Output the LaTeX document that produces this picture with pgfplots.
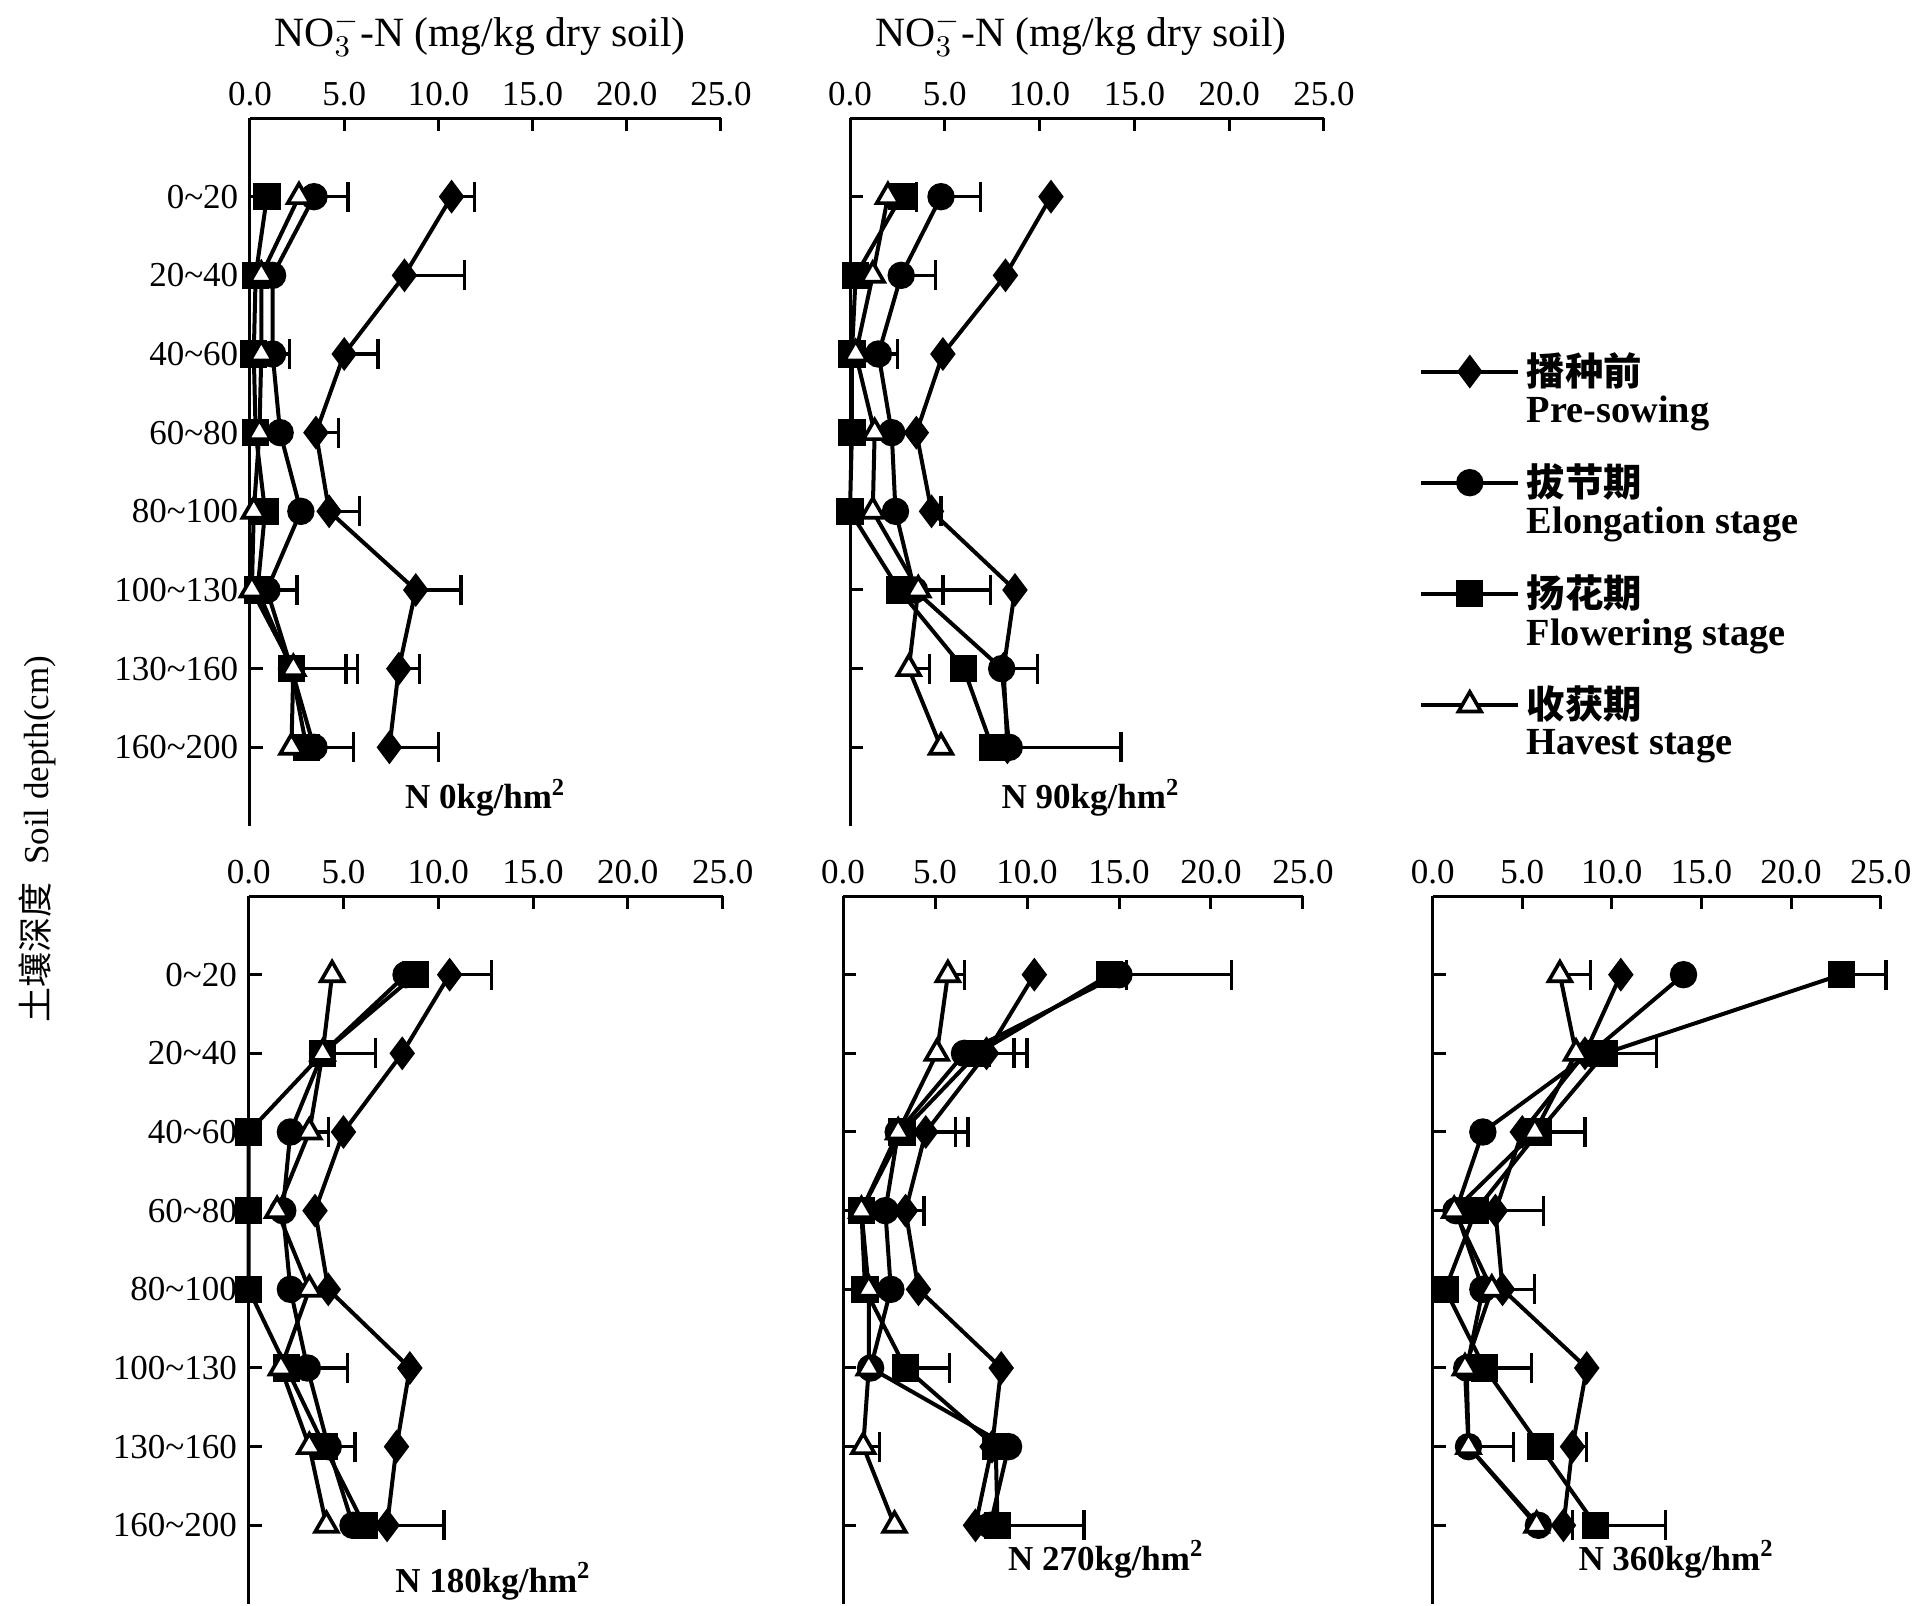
\documentclass[border=0pt]{standalone}
\usepackage{fontspec}
\setmainfont{Liberation Serif}
\newfontfamily\cjk{Noto Sans CJK SC}
\usepackage{pgfplots}
\pgfplotsset{compat=1.18}
\newcommand{\tl}{\textasciitilde}
\tikzset{plab/.style={font=\fontsize{10.5}{12}\selectfont\bfseries}}
\pgfplotsset{
 panel/.style={
  scale only axis, height=212.4pt,
  xmin=0, xmax=25, ymin=-9, ymax=0,
  axis x line*=top, axis y line*=left,
  xtick={0,5,...,25}, ytick={-8,-7,...,-1},
  tick align=inside, major tick length=4pt,
  axis line style={line width=0.9pt, black},
  every tick/.style={line width=0.9pt, black},
  clip=false,
  /pgf/number format/.cd, fixed, fixed zerofill, precision=1, assume math mode=true,
  /pgfplots/.cd,
  tick label style={font=\fontsize{10.5}{12}\selectfont},
 },
 ylab/.style={yticklabels={160\tl200,130\tl160,100\tl130,80\tl100,60\tl80,40\tl60,20\tl40,0\tl20}},
 nolab/.style={yticklabels={}},
 pre/.style={black, line width=1.2pt, mark=diamond*, mark size=4.1pt, mark options={solid, fill=black}},
 elo/.style={black, line width=1.2pt, mark=*, mark size=3.5pt, mark options={solid, fill=black}},
 flo/.style={black, line width=1.2pt, mark=square*, mark size=3.5pt, mark options={solid, fill=black}},
 har/.style={black, line width=1.2pt, mark=triangle*, mark size=3.9pt, mark options={solid, fill=white, line width=1.1pt}},
 errs/.style={forget plot, only marks, mark=none,
   error bars/.cd, x dir=plus, x explicit,
   error bar style={black, line width=1pt, solid},
   error mark options={black, line width=1pt, mark size=4.5pt, solid, rotate=90}},
}
\begin{document}
\begin{tikzpicture}
\useasboundingbox (0,0) rectangle (579.3pt,-481.8pt);
% titles
\node[font=\fontsize{12.5}{14}\selectfont] at (144pt,-10.3pt) {NO$_3^-$-N (mg/kg dry soil)};
\node[font=\fontsize{12.5}{14}\selectfont] at (324.3pt,-10.3pt) {NO$_3^-$-N (mg/kg dry soil)};
\node[rotate=90, font=\fontsize{10.5}{12}\selectfont] at (11.1pt,-251.7pt) {{\cjk 土壤深度}\ \ Soil depth(cm)};

% Panel 1: N 0
\begin{axis}[panel, ylab, width=141.3pt, at={(75pt,-35.4pt)}, anchor=north west]
\addplot[errs] coordinates {(10.7,-1)+-(1.2,0) (8.2,-2)+-(3.2,0) (5.0,-3)+-(1.8,0) (3.5,-4)+-(1.2,0) (4.2,-5)+-(1.6,0) (8.8,-6)+-(2.4,0) (7.9,-7)+-(1.1,0) (7.4,-8)+-(2.6,0)};
\addplot[errs] coordinates {(3.4,-1)+-(1.8,0) (1.2,-3)+-(0.9,0) (0.9,-6)+-(1.6,0) (3.4,-8)+-(2.1,0)};
\addplot[errs] coordinates {(2.2,-7)+-(3.5,0)};
\addplot[errs] coordinates {(2.3,-7)+-(2.8,0)};
\addplot[pre] coordinates {(10.7,-1) (8.2,-2) (5.0,-3) (3.5,-4) (4.2,-5) (8.8,-6) (7.9,-7) (7.4,-8)};
\addplot[elo] coordinates {(3.4,-1) (1.2,-2) (1.2,-3) (1.6,-4) (2.7,-5) (0.9,-6) (2.2,-7) (3.4,-8)};
\addplot[flo] coordinates {(0.9,-1) (0.3,-2) (0.2,-3) (0.3,-4) (0.8,-5) (0.4,-6) (2.2,-7) (3.0,-8)};
\addplot[har] coordinates {(2.6,-1) (0.6,-2) (0.6,-3) (0.5,-4) (0.2,-5) (0.1,-6) (2.3,-7) (2.2,-8)};
\node[plab] at (axis cs:12.5,-8.64) {N 0kg/hm\textsuperscript{2}};
\end{axis}

% Panel 2: N 90
\begin{axis}[panel, nolab, width=142.2pt, at={(255pt,-35.4pt)}, anchor=north west,
  legend image code/.code={\draw[mark repeat=2, mark phase=2, #1] plot coordinates {(0pt,0pt) (14.5pt,0pt) (29pt,0pt)};},
  legend cell align=left,
  legend style={draw=none, fill=none, at={(1.2,0.679)}, anchor=north west, inner sep=0pt, row sep=18pt,
    font=\fontsize{11.5}{10.8}\selectfont, cells={anchor=west}}]
\addplot[errs] coordinates {(4.3,-5)+-(0.5,0) (8.1,-7)+-(1.8,0)};
\addplot[errs] coordinates {(4.8,-1)+-(2.1,0) (2.7,-2)+-(1.8,0) (1.5,-3)+-(1.0,0) (3.4,-6)+-(1.5,0) (8.4,-8)+-(5.9,0)};
\addplot[errs] coordinates {(2.6,-6)+-(4.8,0)};
\addplot[errs] coordinates {(2.0,-1)+-(1.5,0) (3.1,-7)+-(1.1,0)};
\addplot[pre] coordinates {(10.6,-1) (8.2,-2) (4.9,-3) (3.5,-4) (4.3,-5) (8.7,-6) (8.1,-7) (8.3,-8)};
\addplot[elo] coordinates {(4.8,-1) (2.7,-2) (1.5,-3) (2.2,-4) (2.4,-5) (3.4,-6) (8.0,-7) (8.4,-8)};
\addplot[flo] coordinates {(2.7,-1) (0.3,-2) (0.1,-3) (0.1,-4) (0.0,-5) (2.6,-6) (6.0,-7) (7.5,-8)};
\addplot[har] coordinates {(2.0,-1) (1.2,-2) (0.3,-3) (1.3,-4) (1.2,-5) (3.6,-6) (3.1,-7) (4.8,-8)};
\addlegendentry{\begin{tabular}[t]{@{}l@{}}{\cjk\bfseries 播种前}\\\textbf{Pre-sowing}\end{tabular}}
\addlegendentry{\begin{tabular}[t]{@{}l@{}}{\cjk\bfseries 拔节期}\\\textbf{Elongation stage}\end{tabular}}
\addlegendentry{\begin{tabular}[t]{@{}l@{}}{\cjk\bfseries 扬花期}\\\textbf{Flowering stage}\end{tabular}}
\addlegendentry{\begin{tabular}[t]{@{}l@{}}{\cjk\bfseries 收获期}\\\textbf{Havest stage}\end{tabular}}
\node[plab] at (axis cs:12.7,-8.64) {N 90kg/hm\textsuperscript{2}};
\end{axis}

% Panel 3: N 180
\begin{axis}[panel, ylab, width=142.2pt, at={(74.6pt,-268.8pt)}, anchor=north west]
\addplot[errs] coordinates {(10.6,-1)+-(2.2,0) (7.3,-8)+-(3.0,0)};
\addplot[errs] coordinates {(3.9,-2)+-(2.8,0) (3.1,-6)+-(2.1,0) (4.2,-7)+-(1.4,0)};
\addplot[errs] coordinates {(3.2,-3)+-(1.0,0)};
\addplot[pre] coordinates {(10.6,-1) (8.1,-2) (5.0,-3) (3.5,-4) (4.2,-5) (8.5,-6) (7.8,-7) (7.3,-8)};
\addplot[elo] coordinates {(8.3,-1) (3.9,-2) (2.2,-3) (1.8,-4) (2.2,-5) (3.1,-6) (4.2,-7) (5.5,-8)};
\addplot[flo] coordinates {(8.8,-1) (3.9,-2) (0.0,-3) (0.0,-4) (0.0,-5) (2.0,-6) (4.0,-7) (6.1,-8)};
\addplot[har] coordinates {(4.4,-1) (3.9,-2) (3.2,-3) (1.5,-4) (3.2,-5) (1.7,-6) (3.2,-7) (4.1,-8)};
\node[plab] at (axis cs:12.9,-8.71) {N 180kg/hm\textsuperscript{2}};
\end{axis}

% Panel 4: N 270
\begin{axis}[panel, nolab, width=138pt, at={(252.9pt,-268.8pt)}, anchor=north west]
\addplot[errs] coordinates {(15.0,-1)+-(0.4,0) (6.6,-2)+-(2.7,0) (3.0,-3)+-(3.8,0) (2.3,-4)+-(2.1,0)};
\addplot[errs] coordinates {(14.5,-1)+-(6.6,0) (7.3,-2)+-(2.7,0) (3.2,-3)+-(2.9,0) (3.4,-6)+-(2.4,0) (8.4,-8)+-(4.7,0)};
\addplot[errs] coordinates {(5.7,-1)+-(0.9,0) (1.1,-7)+-(0.9,0)};
\addplot[pre] coordinates {(10.4,-1) (7.8,-2) (4.5,-3) (3.4,-4) (4.1,-5) (8.6,-6) (8.1,-7) (7.2,-8)};
\addplot[elo] coordinates {(15.0,-1) (6.6,-2) (3.0,-3) (2.3,-4) (2.6,-5) (1.5,-6) (9.0,-7) (8.0,-8)};
\addplot[flo] coordinates {(14.5,-1) (7.3,-2) (3.2,-3) (1.0,-4) (1.2,-5) (3.4,-6) (8.3,-7) (8.4,-8)};
\addplot[har] coordinates {(5.7,-1) (5.1,-2) (3.0,-3) (1.0,-4) (1.4,-5) (1.4,-6) (1.1,-7) (2.8,-8)};
\node[plab] at (axis cs:14.3,-8.43) {N 270kg/hm\textsuperscript{2}};
\end{axis}

% Panel 5: N 360
\begin{axis}[panel, nolab, width=134.4pt, at={(429.8pt,-268.8pt)}, anchor=north west]
\addplot[errs] coordinates {(7.8,-7)+-(0.8,0) (7.3,-8)+-(0.5,0)};
\addplot[errs] coordinates {(22.8,-1)+-(2.5,0) (9.6,-2)+-(2.9,0) (5.9,-3)+-(2.6,0) (2.4,-4)+-(3.8,0) (2.9,-6)+-(2.6,0) (9.1,-8)+-(3.9,0)};
\addplot[errs] coordinates {(7.1,-1)+-(1.7,0) (3.3,-5)+-(2.4,0) (2.0,-7)+-(2.5,0)};
\addplot[pre] coordinates {(10.5,-1) (8.5,-2) (5.0,-3) (3.5,-4) (3.9,-5) (8.6,-6) (7.8,-7) (7.3,-8)};
\addplot[elo] coordinates {(14.0,-1) (8.8,-2) (2.8,-3) (1.3,-4) (2.8,-5) (1.9,-6) (2.0,-7) (5.9,-8)};
\addplot[flo] coordinates {(22.8,-1) (9.6,-2) (5.9,-3) (2.4,-4) (0.7,-5) (2.9,-6) (6.0,-7) (9.1,-8)};
\addplot[har] coordinates {(7.1,-1) (8.0,-2) (5.7,-3) (1.2,-4) (3.3,-5) (1.8,-6) (2.0,-7) (5.8,-8)};
\node[plab] at (axis cs:13.6,-8.43) {N 360kg/hm\textsuperscript{2}};
\end{axis}
\end{tikzpicture}
\end{document}
